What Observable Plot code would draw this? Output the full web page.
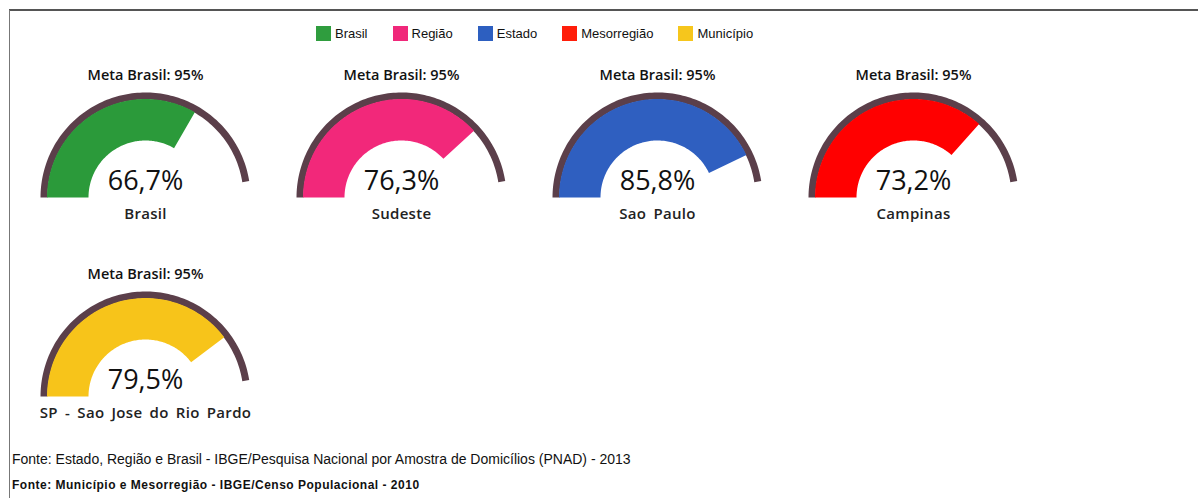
<!DOCTYPE html>
<html><head><meta charset="utf-8">
<script src="https://cdn.jsdelivr.net/npm/d3@7"></script>
<script src="https://cdn.jsdelivr.net/npm/@observablehq/plot@0.6"></script>
<style>
body{margin:0;background:#fff;}
#page{position:relative;width:1198px;height:498px;overflow:hidden;background:#fff;font-family:"Liberation Sans",Arial,sans-serif;}
.bt{position:absolute;left:9px;top:9px;right:0;height:0;border-top:2px solid #555;}
.bl{position:absolute;left:9px;top:10px;bottom:0;width:0;border-left:1px solid #777;}
#legend{position:absolute;left:316px;top:26px;display:flex;align-items:center;font-size:13px;color:#111;}
.li{display:flex;align-items:center;margin-right:25px;}
.sw{width:15px;height:15px;margin-right:4px;}
.gauge{position:absolute;width:256px;height:199px;}
.gauge svg{overflow:visible;}
.foot{position:absolute;left:12px;white-space:nowrap;color:#111;}
</style></head><body><div id="page"><div class="bt"></div><div class="bl"></div><div id="legend"></div></div>
<script>
// ---- data ----
const legendNames = ["Brasil", "Região", "Estado", "Mesorregião", "Município"];
const legendColors = ["#2f9d3e", "#f0287a", "#2d5fc0", "#ff1e0a", "#f6c61c"];
const gaugeLabels = ["Brasil", "Sudeste", "Sao Paulo", "Campinas", "SP - Sao Jose do Rio Pardo"];
const gaugeLevels = ["Brasil", "Região", "Estado", "Mesorregião", "Município"];
const gaugeValues = [66.7, 76.3, 85.8, 73.2, 79.5];
const gaugeColors = ["#2b9a3a", "#f2287a", "#2f5fc0", "#ff0000", "#f7c41a"];
const metaValue = 95;
const metaTitle = "Meta Brasil: 95%";
const footnotes = [
  "Fonte: Estado, Região e Brasil - IBGE/Pesquisa Nacional por Amostra de Domicílios (PNAD) - 2013",
  "Fonte: Município e Mesorregião - IBGE/Censo Populacional - 2010"
];

const page = document.getElementById("page");

// legend
const legend = document.getElementById("legend");
legendNames.forEach((n, i) => {
  const it = document.createElement("div"); it.className = "li";
  const sw = document.createElement("div"); sw.className = "sw"; sw.style.background = legendColors[i];
  const tx = document.createElement("span"); tx.textContent = n;
  it.appendChild(sw); it.appendChild(tx); legend.appendChild(it);
});

// ring polygon in gauge units (0..100 mapped onto a half circle)
function ring(v, r0, r1) {
  const n = 120, pts = [];
  const a1 = Math.PI, a2 = Math.PI * (1 - v / 100);
  for (let k = 0; k <= n; k++) { const a = a1 + (a2 - a1) * k / n; pts.push({x: r1 * Math.cos(a), y: r1 * Math.sin(a)}); }
  for (let k = n; k >= 0; k--) { const a = a1 + (a2 - a1) * k / n; pts.push({x: r0 * Math.cos(a), y: r0 * Math.sin(a)}); }
  return pts;
}
const fmt = v => v.toFixed(1).replace(".", ",") + "%";
const FONT = "'Open Sans', 'DejaVu Sans', sans-serif";

gaugeValues.forEach((v, i) => {
  const col = i % 4, row = Math.floor(i / 4);
  const ci = gaugeLevels.indexOf(gaugeLevels[i]);
  const chart = Plot.plot({
    width: 256, height: 199, margin: 0,
    x: {domain: [-128, 128], axis: null},
    y: {domain: [-52, 147], axis: null},
    style: {background: "transparent", overflow: "visible"},
    marks: [
      Plot.line(ring(metaValue, 98, 105), {x: "x", y: "y", fill: "#5b3f4a", stroke: "none"}),
      Plot.line(ring(v, 57, 98.5), {x: "x", y: "y", fill: gaugeColors[ci], stroke: "none"}),
      Plot.text([metaTitle], {text: d => d, frameAnchor: "top", dy: 29, lineAnchor: "bottom", fontSize: 14.5, fontWeight: 600, fill: "#111", fontFamily: FONT}),
      Plot.text([v], {text: d => fmt(d), frameAnchor: "top", dy: 139, lineAnchor: "bottom", fontSize: 27, fontWeight: 400, fill: "#111", fontFamily: FONT}),
      Plot.text([gaugeLabels[i]], {text: d => d, frameAnchor: "top", dy: 168, lineAnchor: "bottom", fontSize: 15, fontWeight: 600, fill: "#222", fontFamily: FONT, className: "lbl"})
    ]
  });
  const wrap = document.createElement("div"); wrap.className = "gauge";
  wrap.style.left = (17 + 256 * col) + "px";
  wrap.style.top = (50 + 199 * row) + "px";
  wrap.appendChild(chart);
  page.appendChild(wrap);
});
// extra word spacing for gauge labels
document.querySelectorAll(".gauge svg g[aria-label='text']:last-of-type text").forEach(t => { t.style.wordSpacing = "3px"; t.style.letterSpacing = "0.3px"; });

// footnotes
footnotes.forEach((t, i) => {
  const d = document.createElement("div"); d.className = "foot"; d.textContent = t;
  if (i === 0) { d.style.top = "451px"; d.style.fontSize = "14px"; }
  else { d.style.top = "478px"; d.style.fontSize = "12px"; d.style.fontWeight = "bold"; d.style.letterSpacing = "0.5px"; }
  page.appendChild(d);
});
</script>
</body></html>
